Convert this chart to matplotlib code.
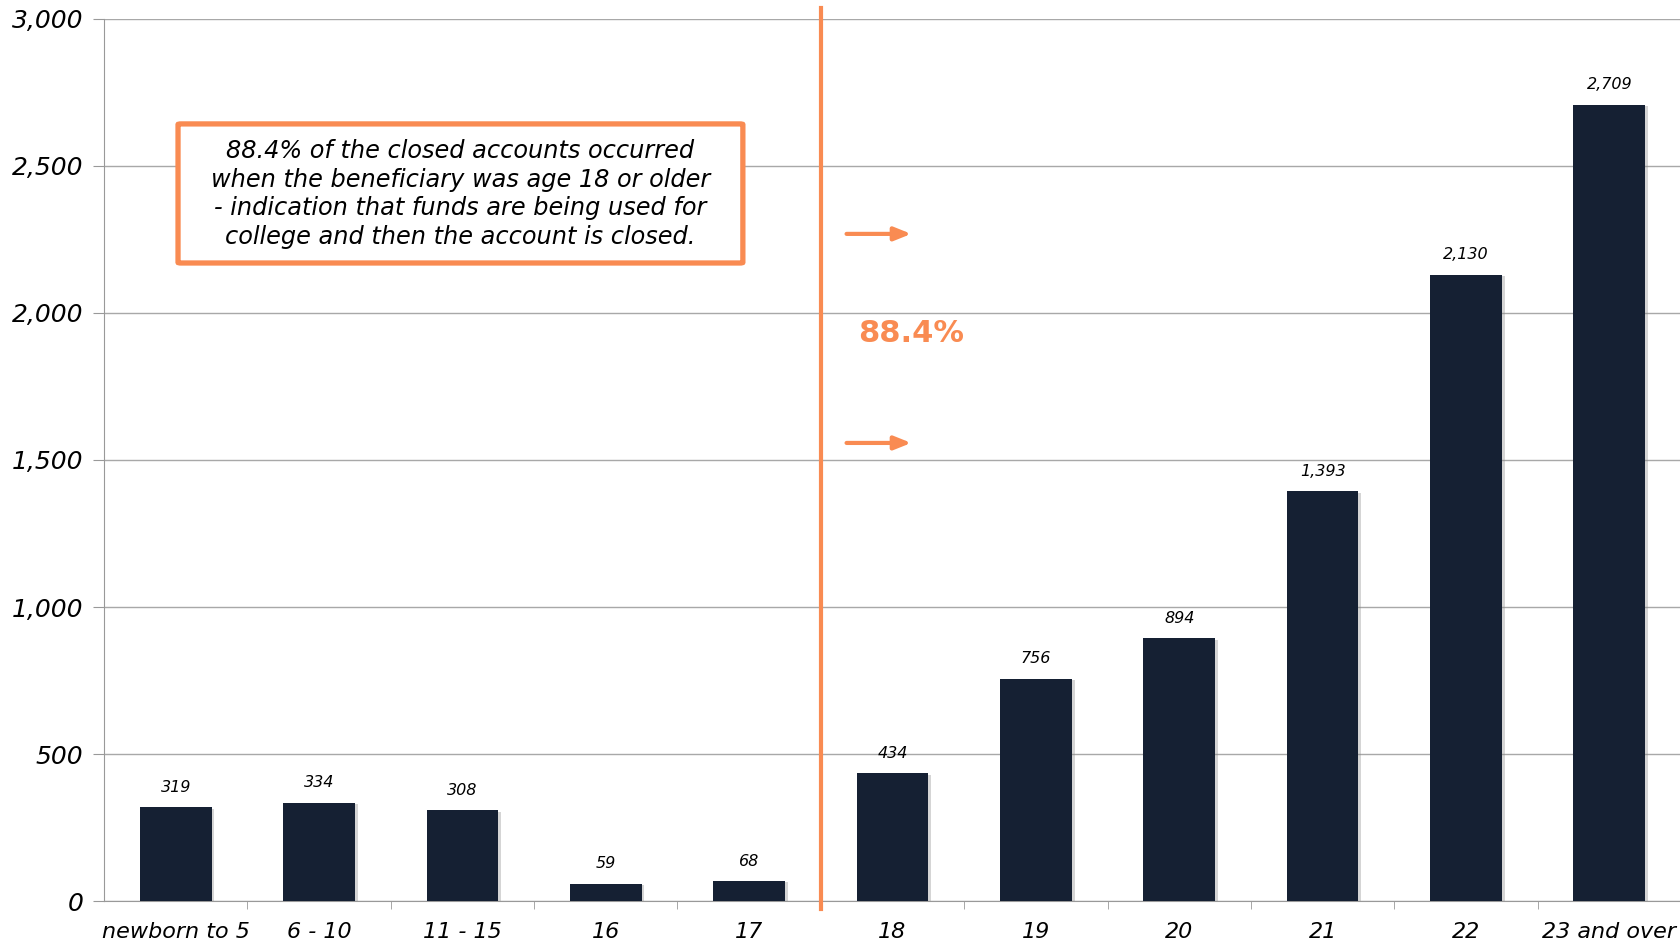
import matplotlib
matplotlib.use("Agg")
import matplotlib.pyplot as plt
import matplotlib.patheffects as pe
from matplotlib.patches import FancyBboxPatch

# closed accounts by age of beneficiary
ages = ["newborn to 5", "6 - 10", "11 - 15", "16", "17",
        "18", "19", "20", "21", "22", "23 and over"]
closed = [319, 334, 308, 59, 68, 434, 756, 894, 1393, 2130, 2709]

share_label = "88.4%"
note = ("88.4% of the closed accounts occurred\n"
        "when the beneficiary was age 18 or older\n"
        "- indication that funds are being used for\n"
        "college and then the account is closed.")

orange = "#F98B52"
navy = "#152033"

plt.rcParams["font.family"] = "DejaVu Sans"

fig = plt.figure(figsize=(16.81, 9.43), dpi=100)
ax = fig.add_axes([0.0619, 0.0445, 0.9381, 0.9354])

x = range(len(ages))
bars = ax.bar(x, closed, width=0.5, color=navy, zorder=3)
for b in bars:
    b.set_path_effects([pe.SimplePatchShadow(offset=(2, -1), shadow_rgbFace="#888888", alpha=0.35),
                        pe.Normal()])

for xi, v in zip(x, closed):
    ax.annotate(f"{v:,}", (xi, v), xytext=(0, 9), textcoords="offset points",
                ha="center", va="bottom", fontsize=11.5, style="italic")

ax.set_xlim(-0.5, len(ages) - 0.5)
ax.set_ylim(0, 3000)
ax.set_yticks(range(0, 3001, 500))
ax.set_yticklabels([f"{t:,}" for t in range(0, 3001, 500)], fontsize=18, style="italic")
ax.set_xticks(list(x))
ax.set_xticklabels(ages, fontsize=16, style="italic")
ax.set_xticks([i + 0.5 for i in range(len(ages) - 1)], minor=True)
ax.tick_params(axis="x", which="major", length=0, pad=15)
ax.tick_params(axis="x", which="minor", length=6, color="#999999")
ax.tick_params(axis="y", length=8, color="#999999", pad=7)

ax.grid(axis="y", color="#A8A8A8", lw=1, zorder=0)
for s in ["top", "right"]:
    ax.spines[s].set_visible(False)
ax.spines["left"].set_color("#999999")
ax.spines["bottom"].set_color("#999999")

# split between under 18 and 18+
ax.axvline(4.5, ymin=-0.009, ymax=1.012, color=orange, lw=3, clip_on=False, zorder=4)

for yv in [2269, 1558]:
    ax.annotate("", xy=(5.15, yv), xytext=(4.66, yv),
                arrowprops=dict(arrowstyle="-|>,head_length=1.0,head_width=0.4",
                                color=orange, lw=3))
ax.text(5.13, 1929, share_label, color=orange, fontsize=22, fontweight="bold",
        ha="center", va="center")

# note box
ax.add_patch(FancyBboxPatch((0.016, 2170), 3.94, 473, boxstyle="round,pad=0,rounding_size=0.02",
                            fc="white", ec=orange, lw=3.8, zorder=5,
                            mutation_aspect=120))
ax.text(1.986, 2404, note, fontsize=17.3, style="italic", ha="center", va="center",
        linespacing=1.24, zorder=6)

fig.savefig("out.png", dpi=100)
